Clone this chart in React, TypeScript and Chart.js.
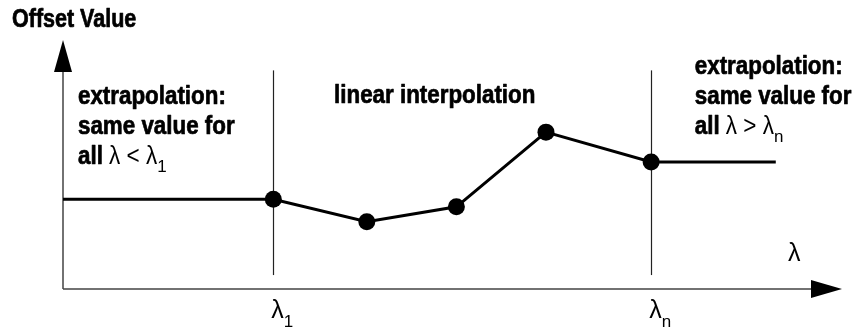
import React, { useEffect, useRef } from 'react';
import { Chart, registerables } from 'chart.js';

Chart.register(...registerables);

// ---- data ----
const xValues = [0, 27, 39, 50.5, 62, 75.5, 91.5];
const yValues = [36, 36, 27, 33, 63, 51, 51];
const markerShown = [false, true, true, true, true, true, false];
const lambdaMarks = [27, 75.5];
const lambdaSubs = ['1', 'n'];
const markerLineRange = [5.6, 87.8];
const titleText = 'Offset Value';
const axisSymbol = 'λ';
const middleNote = 'linear interpolation';
const leftNoteLines = ['extrapolation:', 'same value for'];
const rightNoteLines = ['extrapolation:', 'same value for'];
const leftLastLine = { word: 'all', op: '<', sub: '1' };
const rightLastLine = { word: 'all', op: '>', sub: 'n' };

const BOLD = 'bold 26px "Liberation Sans", Arial, sans-serif';
const TITLE = 'bold 25px "Liberation Sans", Arial, sans-serif';
const REG = '25px "Liberation Sans", Arial, sans-serif';
const SUB = '17px "Liberation Sans", Arial, sans-serif';
const NARROW = 0.86;

type Run = { text: string; font: string; dy?: number; sx?: number; heavy?: boolean };

function drawRuns(ctx: CanvasRenderingContext2D, x: number, y: number, runs: Run[]) {
  let cx = x;
  for (const r of runs) {
    const sx = r.sx ?? 1;
    ctx.font = r.font;
    ctx.save();
    ctx.translate(cx, y + (r.dy || 0));
    ctx.scale(sx, 1);
    ctx.fillText(r.text, 0, 0);
    if (r.heavy) {
      ctx.lineWidth = 0.7;
      ctx.strokeStyle = '#000';
      ctx.lineJoin = 'round';
      ctx.strokeText(r.text, 0, 0);
    }
    ctx.restore();
    cx += ctx.measureText(r.text).width * sx;
  }
}

const diagramPlugin = {
  id: 'diagram',
  beforeDatasetsDraw(chart: any) {
    const { ctx, chartArea, scales } = chart;
    const xs = scales.x;
    const ys = scales.y;
    const ox = xs.getPixelForValue(0);
    const oy = ys.getPixelForValue(0);
    ctx.save();
    // marker verticals
    ctx.strokeStyle = '#222';
    ctx.lineWidth = 1.2;
    for (const m of lambdaMarks) {
      const px = Math.round(xs.getPixelForValue(m)) + 0.5;
      ctx.beginPath();
      ctx.moveTo(px, ys.getPixelForValue(markerLineRange[0]));
      ctx.lineTo(px, ys.getPixelForValue(markerLineRange[1]));
      ctx.stroke();
    }
    // axes
    ctx.strokeStyle = '#444';
    ctx.lineWidth = 1.5;
    ctx.beginPath();
    ctx.moveTo(ox, oy);
    ctx.lineTo(chartArea.right - 30, oy);
    ctx.moveTo(ox, oy);
    ctx.lineTo(ox, chartArea.top + 30);
    ctx.stroke();
    ctx.fillStyle = '#000';
    ctx.beginPath();
    ctx.moveTo(chartArea.right - 31, oy - 9);
    ctx.lineTo(chartArea.right, oy);
    ctx.lineTo(chartArea.right - 31, oy + 9);
    ctx.closePath();
    ctx.fill();
    ctx.beginPath();
    ctx.moveTo(ox - 9, chartArea.top + 32);
    ctx.lineTo(ox, chartArea.top);
    ctx.lineTo(ox + 9, chartArea.top + 32);
    ctx.closePath();
    ctx.fill();
    ctx.restore();
  },
  afterDraw(chart: any) {
    const { ctx, chartArea, scales } = chart;
    const xs = scales.x;
    const ys = scales.y;
    const ox = xs.getPixelForValue(0);
    const oy = ys.getPixelForValue(0);
    ctx.save();
    ctx.fillStyle = '#000';
    ctx.textBaseline = 'alphabetic';
    ctx.textAlign = 'left';
    // title
    drawRuns(ctx, 12, 27, [{ text: titleText, font: TITLE, sx: 0.86, heavy: true }]);
    // tick labels under markers
    lambdaMarks.forEach((m, i) => {
      const px = xs.getPixelForValue(m);
      drawRuns(ctx, px - 2, oy + 29, [
        { text: axisSymbol, font: REG },
        { text: lambdaSubs[i], font: SUB, dy: 9 },
      ]);
    });
    // axis symbol
    ctx.font = REG;
    ctx.fillText(axisSymbol, chartArea.right - 54, oy - 28);
    // middle note
    drawRuns(ctx, xs.getPixelForValue(34.8), 103, [{ text: middleNote, font: BOLD, sx: NARROW, heavy: true }]);
    // left note
    const lx = ox + 15;
    leftNoteLines.forEach((t, i) => {
      drawRuns(ctx, lx, 104 + i * 30, [{ text: t, font: BOLD, sx: NARROW, heavy: true }]);
    });
    drawRuns(ctx, lx, 164, [
      { text: leftLastLine.word + ' ', font: BOLD, sx: NARROW, heavy: true },
      { text: axisSymbol + ' ' + leftLastLine.op + ' ' + axisSymbol, font: REG, sx: 0.9 },
      { text: leftLastLine.sub, font: SUB, dy: 8 },
    ]);
    // right note
    const rx = xs.getPixelForValue(81.1);
    rightNoteLines.forEach((t, i) => {
      drawRuns(ctx, rx, 74 + i * 30, [{ text: t, font: BOLD, sx: NARROW, heavy: true }]);
    });
    drawRuns(ctx, rx, 134, [
      { text: rightLastLine.word + ' ', font: BOLD, sx: NARROW, heavy: true },
      { text: axisSymbol + ' ' + rightLastLine.op + ' ' + axisSymbol, font: REG, sx: 0.9 },
      { text: rightLastLine.sub, font: SUB, dy: 8 },
    ]);
    ctx.restore();
  },
};

export default function App() {
  const ref = useRef<HTMLCanvasElement | null>(null);
  useEffect(() => {
    if (!ref.current) return;
    const chart = new Chart(ref.current, {
      type: 'line',
      data: {
        datasets: [
          {
            data: xValues.map((x, i) => ({ x, y: yValues[i] })),
            borderColor: '#000',
            borderWidth: 3,
            backgroundColor: '#000',
            pointBackgroundColor: '#000',
            pointBorderColor: '#000',
            pointRadius: markerShown.map((s) => (s ? 8.5 : 0)),
            pointBorderWidth: 0,
            tension: 0,
            fill: false,
          },
        ],
      },
      options: {
        responsive: false,
        animation: false,
        events: [],
        layout: { padding: { left: 63, right: 19, top: 40, bottom: 39 } },
        plugins: { legend: { display: false }, tooltip: { enabled: false } },
        scales: {
          x: { type: 'linear', min: 0, max: 100, display: false },
          y: { type: 'linear', min: 0, max: 100, display: false },
        },
      },
      plugins: [diagramPlugin],
    });
    return () => chart.destroy();
  }, []);
  return (
    <div style={{ position: 'fixed', left: 0, top: 0, width: 861, height: 328, background: '#fff' }}>
      <canvas ref={ref} width={861} height={328} style={{ display: 'block' }} />
    </div>
  );
}
